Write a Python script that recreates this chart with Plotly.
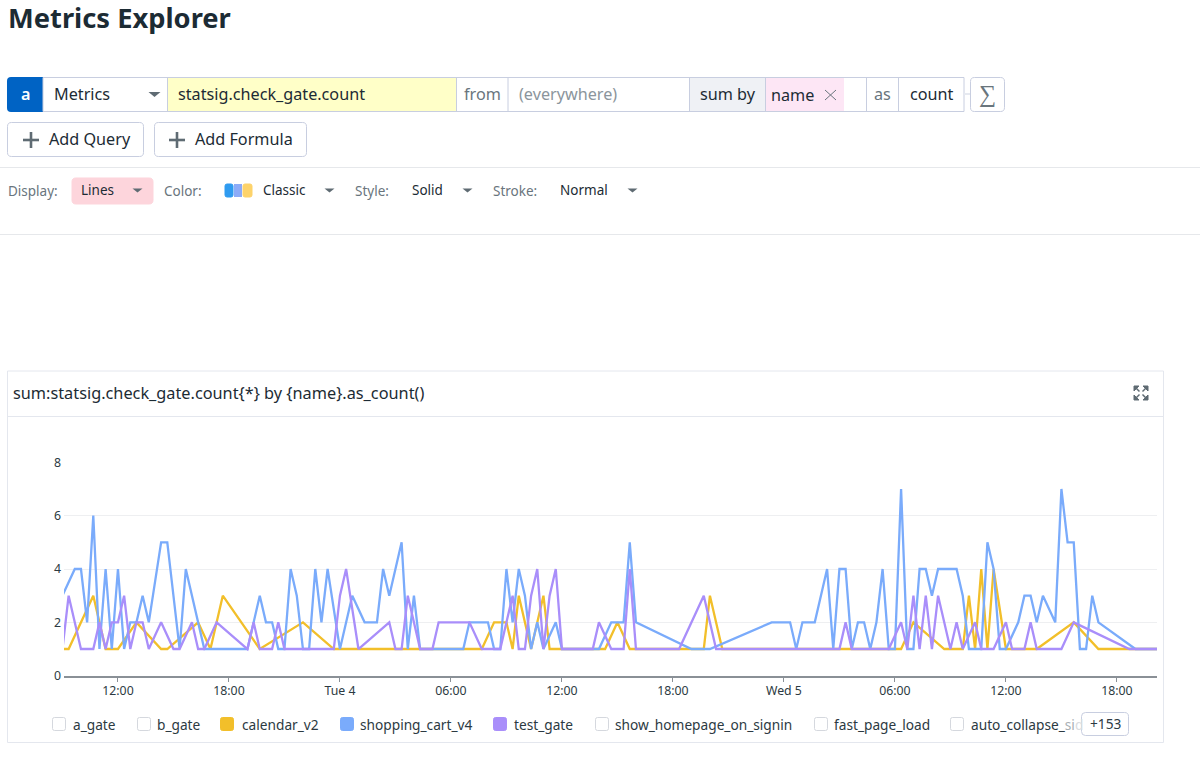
import pandas as pd
import plotly.graph_objects as go

# 20 minute slots counted from Mon 09:00
START = pd.Timestamp("2022-10-03 09:00")

calendar_slots = [0, 1, 5, 7, 9, 12, 16, 17, 22, 24, 26, 32, 39, 44, 58, 68, 70, 72, 73, 74, 76, 77, 78, 79, 81, 88, 90, 92,
                  104, 105, 107, 136, 138, 143, 146, 147, 148, 149, 150, 151, 153, 158, 164, 168, 178]
calendar_vals = [1, 1, 3, 1, 1, 2, 1, 1, 2, 1, 3, 1, 2, 1, 1, 1, 2, 2, 1, 3, 1, 2, 3, 1, 1, 1, 2, 1,
                 1, 3, 1, 1, 2, 1, 1, 3, 1, 4, 1, 4, 1, 1, 2, 1, 1]

cart_slots = [0, 2, 3, 4, 5, 6, 7, 8, 9, 10, 11, 12, 13, 14, 16, 17, 19, 20, 23, 30, 32, 33, 34, 35, 36, 37, 38, 39, 40,
              41, 42, 43, 45, 47, 49, 51, 52, 53, 55, 56, 57, 58, 65, 66, 69, 70, 71, 72, 73, 74, 75, 76, 77, 78, 80,
              81, 87, 89, 91, 92, 93, 102, 105, 115, 118, 119, 120, 122, 124, 125, 126, 127, 128, 129, 130, 131, 132,
              133, 134, 135, 136, 137, 138, 139, 140, 141, 142, 145, 146, 147, 149, 150, 151, 152, 153, 155, 156, 157,
              158, 159, 161, 162, 163, 164, 165, 166, 167, 168, 174, 178]
cart_vals = [3, 4, 4, 2, 6, 1, 4, 1, 4, 1, 2, 2, 3, 2, 5, 5, 1, 4, 1, 1, 3, 2, 2, 1, 1, 4, 3, 1, 1,
             4, 2, 4, 1, 3, 2, 2, 4, 3, 5, 1, 3, 1, 1, 2, 2, 1, 1, 4, 2, 4, 3, 1, 2, 1, 2,
             1, 1, 2, 2, 5, 2, 1, 1, 2, 2, 1, 2, 2, 4, 1, 4, 4, 1, 2, 2, 1, 2,
             4, 1, 1, 7, 1, 1, 4, 4, 3, 4, 4, 3, 1, 1, 5, 4, 1, 1, 2, 3, 3,
             2, 3, 2, 7, 5, 5, 1, 1, 3, 2, 1, 1]

test_slots = [0, 1, 3, 5, 6, 7, 8, 9, 10, 11, 12, 13, 14, 16, 18, 19, 21, 22, 23, 25, 30, 31, 32, 34, 35, 36, 44, 45, 46,
              48, 53, 54, 55, 56, 58, 60, 61, 66, 68, 71, 73, 74, 75, 76, 77, 78, 79, 80, 81, 86, 87, 89, 91, 92, 93,
              100, 104, 106, 126, 127, 128, 134, 136, 137, 138, 139, 140, 141, 142, 144, 145, 146, 148, 149, 151, 153,
              154, 156, 157, 158, 162, 164, 173, 178]
test_vals = [1, 3, 1, 1, 2, 1, 2, 2, 3, 1, 2, 2, 1, 2, 1, 1, 2, 1, 1, 2, 1, 2, 1, 1, 2, 1, 1, 3, 4,
             1, 2, 1, 1, 3, 1, 1, 2, 2, 1, 1, 3, 1, 1, 3, 4, 1, 3, 4, 1, 1, 2, 1, 1, 4, 1,
             1, 3, 1, 1, 2, 1, 1, 2, 1, 3, 1, 3, 1, 3, 1, 2, 1, 2, 1, 1, 2,
             1, 1, 2, 1, 1, 2, 1, 1]

x_tick_times = ["2022-10-03 12:00", "2022-10-03 18:00", "2022-10-04 00:00", "2022-10-04 06:00", "2022-10-04 12:00",
                "2022-10-04 18:00", "2022-10-05 00:00", "2022-10-05 06:00", "2022-10-05 12:00", "2022-10-05 18:00"]
x_tick_labels = ["12:00", "18:00", "Tue 4", "06:00", "12:00", "18:00", "Wed 5", "06:00", "12:00", "18:00"]
y_ticks = [0, 2, 4, 6, 8]

W, H = 1200, 761
FONT = "Noto Sans"
INK = "#1c2b34"
GREY = "#69757d"
EDGE = "#c8cee0"
YELLOW = "#f2bf2a"
BLUE = "#7aabfb"
PURPLE = "#a98efa"


def to_times(slots):
    return [(START + pd.Timedelta(minutes=20 * s)).strftime("%Y-%m-%d %H:%M") for s in slots]


fig = go.Figure()
for name, slots, vals, color in [
    ("calendar_v2", calendar_slots, calendar_vals, YELLOW),
    ("shopping_cart_v4", cart_slots, cart_vals, BLUE),
    ("test_gate", test_slots, test_vals, PURPLE),
]:
    fig.add_trace(go.Scatter(x=to_times(slots), y=vals, mode="lines", name=name,
                             line=dict(color=color, width=2.3), showlegend=False))

shapes = []
annotations = []


# page furniture is given in page pixels and converted to paper fractions
def px(x):
    return x / W


def py(y):
    return 1 - y / H


def box(x0, y0, x1, y1, fill="rgba(0,0,0,0)", line=None, width=1):
    shapes.append(dict(type="rect", xref="paper", yref="paper", x0=px(x0), y0=py(y0), x1=px(x1), y1=py(y1),
                       fillcolor=fill, line=dict(color=line or "rgba(0,0,0,0)", width=width if line else 0)))


def seg(x0, y0, x1, y1, color=EDGE, width=1):
    shapes.append(dict(type="line", xref="paper", yref="paper", x0=px(x0), y0=py(y0), x1=px(x1), y1=py(y1),
                       line=dict(color=color, width=width)))


def path(d, fill="rgba(0,0,0,0)", line=None, width=1):
    out = []
    is_x = True
    for tok in d.split():
        if tok.isalpha():
            out.append(tok)
            is_x = True
        else:
            out.append(f"{px(float(tok)):.5f}" if is_x else f"{py(float(tok)):.5f}")
            is_x = not is_x
    shapes.append(dict(type="path", xref="paper", yref="paper", path=" ".join(out), fillcolor=fill,
                       line=dict(color=line or "rgba(0,0,0,0)", width=width if line else 0)))


def rounded(x0, y0, x1, y1, r=4, fill="#ffffff", line=EDGE):
    path(f"M {x0+r} {y0} L {x1-r} {y0} Q {x1} {y0} {x1} {y0+r} L {x1} {y1-r} Q {x1} {y1} {x1-r} {y1} "
         f"L {x0+r} {y1} Q {x0} {y1} {x0} {y1-r} L {x0} {y0+r} Q {x0} {y0} {x0+r} {y0} Z", fill, line)


def label(x, y, text, size=16.2, color=INK, anchor="left", weight=400):
    annotations.append(dict(xref="paper", yref="paper", x=px(x), y=py(y), text=text, showarrow=False, xanchor=anchor,
                            yanchor="middle", xshift=-2 if anchor == "left" else 0, align="left",
                            font=dict(family=FONT, size=size, color=color, weight=weight)))


def caret(cx, cy, w=6, h=5, color="#5f6b73"):
    path(f"M {cx-w} {cy-h/2} L {cx+w} {cy-h/2} L {cx} {cy+h/2} Z", color)


def plus(cx, cy, r=8, color="#5f6b73"):
    box(cx - r, cy - 1.3, cx + r, cy + 1.3, color)
    box(cx - 1.3, cy - r, cx + 1.3, cy + r, color)


label(8, 17.5, "Metrics Explorer", size=27.3, weight=700)

# query bar
path("M 43 77 L 11 77 Q 7 77 7 81 L 7 108 Q 7 112 11 112 L 43 112 Z", "#0063c4")
label(25, 94, "a", color="#ffffff", anchor="center", weight=600)
box(43, 77.5, 964, 111.5, line=EDGE)
box(168, 78, 456, 111, "#ffffc8")
box(690, 78, 765, 111, "#eff1f5")
box(766, 78, 844, 111, "#fde6f5")
for sep_x in [167.5, 456.5, 508, 689.5, 765.5, 866.5, 898.5]:
    seg(sep_x, 77.5, sep_x, 111.5)
label(54, 94, "Metrics")
caret(154.5, 94.5)
label(178, 94, "statsig.check_gate.count")
label(464, 94, "from", color=GREY)
label(519, 94, "(everywhere)", color="#8b959c")
label(700, 94, "sum by")
label(771, 95, "name")
seg(825, 90, 836, 100, GREY)
seg(836, 90, 825, 100, GREY)
label(874, 94, "as", color=GREY)
label(910, 94, "count")
box(964, 93, 970, 95, "#e6e9f0")
rounded(970.5, 77.5, 1004.5, 111.5)
label(987, 93, "∑", size=24, color=GREY, anchor="center")

rounded(7.5, 122.5, 143.5, 156.5)
plus(31, 140)
label(49, 139, "Add Query")
rounded(154.5, 122.5, 306.5, 156.5)
plus(177, 140)
label(195, 139, "Add Formula")

box(0, 167, 1200, 168, "#e6e8eb")
box(0, 234, 1200, 235, "#e6e8eb")

# display options
label(8, 191, "Display:", size=13.5, color=GREY)
rounded(72, 178, 153, 204, fill="#fdd5dc", line="#fdd5dc")
label(81, 190, "Lines", size=13.5)
caret(137.5, 190.5, w=5, h=4)
label(164, 191, "Color:", size=13.5, color=GREY)
rounded(225, 184, 233, 197, r=2, fill="#2f9bf0", line="#2f9bf0")
box(234, 184, 242, 197, "#8cabf8")
rounded(243, 184, 252, 197, r=2, fill="#fdd36b", line="#fdd36b")
label(263, 190, "Classic", size=13.5)
caret(329.5, 190.5, w=5, h=4)
label(355, 191, "Style:", size=13.5, color=GREY)
label(412, 190, "Solid", size=13.5)
caret(467.5, 190.5, w=5, h=4)
label(493, 191, "Stroke:", size=13.5, color=GREY)
label(560, 190, "Normal", size=13.5)
caret(632.5, 190.5, w=5, h=4)

# graph card
box(7.5, 371, 1163.5, 742.5, line="#e4e7ee")
box(8, 416, 1163, 417, "#e4e7ee")
label(13, 393, "sum:statsig.check_gate.count{*} by {name}.as_count()", size=16.3)
for d in ["M 1134 386 L 1139 386 L 1134 391 Z", "M 1148 386 L 1143 386 L 1148 391 Z",
          "M 1134 400 L 1139 400 L 1134 395 Z", "M 1148 400 L 1143 400 L 1148 395 Z"]:
    path(d, "#5f6b73", "#5f6b73", 1)
for x0, y0, x1, y1 in [(1135, 387, 1139.5, 391.5), (1147, 387, 1142.5, 391.5),
                       (1135, 399, 1139.5, 394.5), (1147, 399, 1142.5, 394.5)]:
    seg(x0, y0, x1, y1, "#5f6b73", 1.5)

# legend
legend_items = [
    (52, 73, "a_gate", None), (137, 157, "b_gate", None), (220, 242, "calendar_v2", YELLOW),
    (340, 360, "shopping_cart_v4", BLUE), (493, 514, "test_gate", PURPLE),
    (595, 615, "show_homepage_on_signin", None), (814, 834, "fast_page_load", None),
    (950, 971, "auto_collapse_<span style='color:#a9afb4'>si</span><span style='color:#d9dcdf'>d</span>", None),
]
for box_x, text_x, text, color in legend_items:
    rounded(box_x + 0.5, 717.5, box_x + 13.5, 730.5, r=2, fill=color or "#ffffff", line=color or "#d5d8de")
    label(text_x, 724, text, size=13.7, color="#2c3a42")
rounded(1081.5, 712.5, 1128.5, 735.5, r=4)
label(1105, 723, "+153", size=13.7, color="#2c3a42", anchor="center")

fig.update_layout(
    width=W, height=H, autosize=False, margin=dict(l=0, r=0, t=0, b=0, autoexpand=False),
    paper_bgcolor="#ffffff", plot_bgcolor="#ffffff", showlegend=False,
    font=dict(family=FONT, size=12.3, color="#2c3a42"),
    shapes=shapes, annotations=annotations,
    xaxis=dict(domain=[64 / W, 1157 / W], type="date", range=["2022-10-03 09:05", "2022-10-05 20:10"],
               tickmode="array", tickvals=x_tick_times, ticktext=x_tick_labels, ticks="outside", ticklen=5,
               tickcolor="#8a9096", tickwidth=1, showgrid=False, showline=True, linecolor="#8a9096", linewidth=1.5,
               zeroline=False, ticklabelstandoff=-2),
    yaxis=dict(domain=[1 - 675.7 / H, 1 - 462.3 / H], range=[0, 8], tickmode="array",
               tickvals=y_ticks, showgrid=True, gridcolor="#eeeff1", gridwidth=1, zeroline=False, ticks="",
               ticklabelstandoff=2),
)

fig.write_html("out.html", config=dict(displayModeBar=False), post_script="document.body.style.margin='0';")
